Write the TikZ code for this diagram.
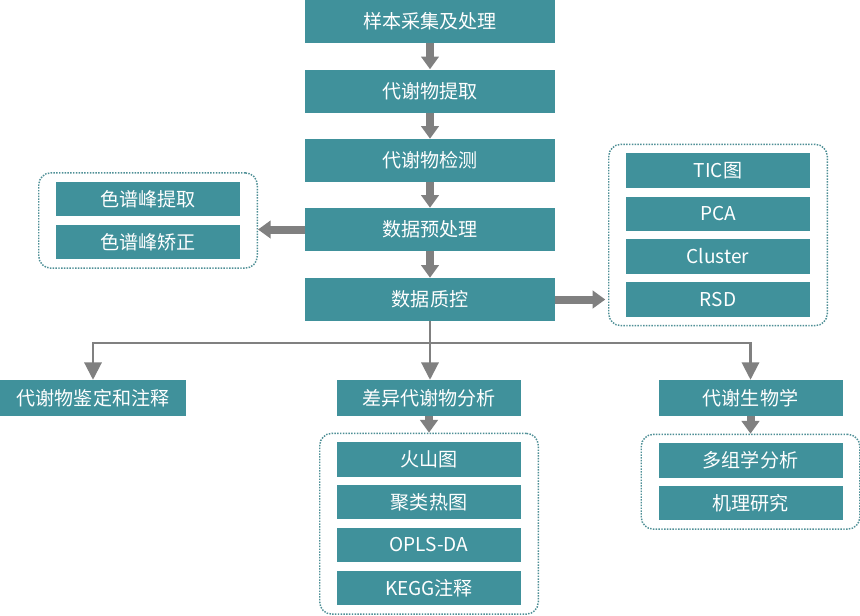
\documentclass[tikz,border=0pt]{standalone}
\usepackage{fontspec}
\newfontfamily\cjk{Noto Sans CJK SC}
\usetikzlibrary{arrows.meta,fit}
\definecolor{boxteal}{RGB}{64,145,155}
\definecolor{arrowgray}{RGB}{128,128,128}
\definecolor{frameteal}{RGB}{78,143,150}
\tikzset{
  stage/.style={fill=boxteal,text=white,inner sep=0pt,
    minimum width=187.5pt,minimum height=32.25pt,
    font=\cjk\fontsize{14.3}{17}\selectfont},
  item/.style={fill=boxteal,text=white,inner sep=0pt,
    minimum width=138pt,minimum height=26pt,
    font=\cjk\fontsize{14.3}{17}\selectfont},
  group/.style={draw=frameteal,line width=1.1pt,dash pattern=on 1.1pt off 1pt,
    rounded corners=9pt,inner xsep=12.75pt,inner ysep=6.4pt},
  fat/.style={draw=arrowgray,line width=6pt,-{Triangle[width=13pt,length=9.5pt]}},
  branch/.style={draw=arrowgray,line width=1.6pt},
  branchtip/.style={branch,-{Triangle[width=13pt,length=13pt]}}
}
\begin{document}
\begin{tikzpicture}[x=0.75pt,y=-0.75pt]
  \useasboundingbox[fill=white] (0,0) rectangle (860,615);
  % main stages
  \node[stage] (sample) at (430,21.5) {样本采集及处理};
  \node[stage] (extract) at (430,91) {代谢物提取};
  \node[stage] (detect) at (430,160.5) {代谢物检测};
  \node[stage] (pre) at (430,229.5) {数据预处理};
  \node[stage] (qc) at (430,299.5) {数据质控};
  % preprocessing items
  \node[item] (pick) at (148,199) {色谱峰提取};
  \node[item] (align) at (148,242) {色谱峰矫正};
  \node[group,fit=(pick)(align)] (peaks) {};
  % quality control items
  \node[item] (tic) at (718,170.5) {TIC图};
  \node[item] (pca) at (718,214) {PCA};
  \node[item] (cluster) at (718,256.5) {Cluster};
  \node[item] (rsd) at (718,299.5) {RSD};
  \node[group,fit=(tic)(rsd)] (checks) {};
  % analyses
  \coordinate (split) at (430,343);
  \node[item,minimum width=139.5pt,minimum height=27pt] (ident) at (93,398) {代谢物鉴定和注释};
  \node[item,minimum height=27pt] (diff) at (429,398) {差异代谢物分析};
  \node[item,minimum height=27pt] (bio) at (750.5,398) {代谢生物学};
  \node[item] (volcano) at (429,459.5) {火山图};
  \node[item] (heat) at (429,502) {聚类热图};
  \node[item] (opls) at (429,545) {OPLS-DA};
  \node[item] (kegg) at (429,588) {KEGG注释};
  \node[group,fit=(volcano)(kegg)] (diffgrp) {};
  \node[item] (omics) at (750.5,460.5) {多组学分析};
  \node[item] (mech) at (750.5,503) {机理研究};
  \node[group,fit=(omics)(mech)] (biogrp) {};
  \begin{scope}
    \draw[fat] (sample) to (extract);
    \draw[fat] (extract) to (detect);
    \draw[fat] (detect) to (pre);
    \draw[fat] (pre) to (qc);
    \draw[fat] (pre.west) to (pre.west -| peaks.east);
    \draw[fat,shorten >=2pt] (qc.east) to (qc.east -| checks.west);
    \draw[branch] (qc.south) to (split);
    \draw[branchtip] (split) -| (ident.north);
    \draw[branchtip] (split) to (split |- diff.north);
    \draw[branchtip] (split) -| (bio.north);
    \draw[fat] (diff) to (diffgrp);
    \draw[fat] (bio) to (biogrp);
  \end{scope}
\end{tikzpicture}
\end{document}
